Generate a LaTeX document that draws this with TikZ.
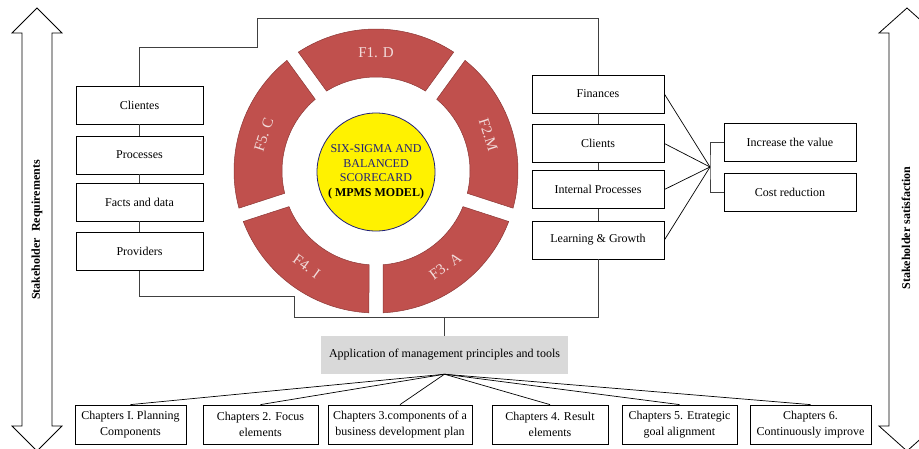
\documentclass[tikz,border=0pt]{standalone}
\usepackage{fontspec}
\setmainfont{Liberation Serif}
\usepackage{tikz}
\usetikzlibrary{calc}
\definecolor{segred}{HTML}{C0504D}
\definecolor{segedge}{HTML}{8C3836}
\definecolor{seglight}{HTML}{F2DCDB}
\definecolor{corenavy}{HTML}{1F1F7A}
\definecolor{appgray}{HTML}{D9D9D9}
\definecolor{linkgray}{HTML}{404040}
\newcommand\boxfont{\fontsize{12}{14.5}\selectfont}
\newcommand\chapfont{\fontsize{12}{16}\selectfont}
\tikzset{
  stbox/.style={draw=black,line width=0.8pt,minimum height=38pt,inner sep=2pt,
    font=\boxfont,fill=white},
  leftbox/.style={stbox,minimum width=127pt},
  rightbox/.style={stbox,minimum width=132pt},
  goalbox/.style={stbox,minimum width=132pt},
  chapbox/.style={stbox,minimum height=39pt,align=center,font=\chapfont,inner sep=1pt},
  appbox/.style={fill=appgray,minimum width=247pt,minimum height=38pt,
    inner sep=2pt,font=\boxfont},
  link/.style={linkgray,line width=0.8pt},
  fan/.style={black,line width=0.7pt},
  ringseg/.style={fill=segred,draw=segedge,line width=0.5pt},
  seglbl/.style={text=seglight,font=\fontsize{15}{17}\selectfont,inner sep=0pt},
  core/.style={circle,fill=yellow,draw=corenavy,line width=0.8pt,
    minimum size=118pt,inner sep=0pt,text=corenavy,align=center,
    font=\fontsize{12}{14.5}\selectfont},
  bigarrow/.style={draw=black,line width=0.8pt,fill=white},
  sidelbl/.style={rotate=90,font=\fontsize{12}{14}\selectfont\bfseries,inner sep=0pt},
}

\begin{document}
\begin{tikzpicture}[x=1pt,y=1pt]
  \useasboundingbox[fill=white] (0,0) rectangle (919,-448);

  \draw[bigarrow] (37,-8) -- (62,-33) -- (52,-33) -- (52,-426) -- (62,-426)
    -- (37,-451) -- (12,-426) -- (22,-426) -- (22,-33) -- (12,-33) -- cycle;
  \node[sidelbl] (req) at (37,-230) {Stakeholder\ \ Requirements};
  \draw[bigarrow] (907,-8) -- (935,-33) -- (925,-33) -- (925,-426) -- (935,-426)
    -- (907,-451) -- (879,-426) -- (889,-426) -- (889,-33) -- (879,-33) -- cycle;
  \node[sidelbl] (sat) at (906,-228) {Stakeholder satisfaction};

  \foreach \n/\y/\txt in {cli/105/Clientes,prc/155/Processes,
      fct/202/Facts and data,prv/251.5/Providers} {
    \node[leftbox] (\n) at (139.5,-\y) {\txt};
  }
  \foreach \n/\y/\txt in {fin/94/Finances,clt/143.5/Clients,
      ipr/189.5/Internal Processes,lrn/240/Learning \& Growth} {
    \node[rightbox] (\n) at (598,-\y) {\txt};
  }
  \node[goalbox] (inc) at (790,-142) {Increase the value};
  \node[goalbox] (cost) at (790,-192) {Cost reduction};

  \coordinate (topL) at (257,-47);
  \coordinate (topLU) at (257,-18);
  \coordinate (botR) at (598,-317);
  \coordinate (botL) at (294,-317);
  \coordinate (botLU) at (294,-296);
  \coordinate (merge) at (710,-167);

  \draw[link] (cli.north) |- (topL) -- (topLU) -| (fin.north);
  \draw[link] (lrn.south) |- (botL) -- (botLU) -| (prv.south);
  \draw[link] (cli) -- (prc) (prc) -- (fct) (fct) -- (prv);
  \draw[link] (fin) -- (clt) (clt) -- (ipr) (ipr) -- (lrn);
  \foreach \n in {fin,clt,ipr,lrn} {
    \draw[fan] (\n.east) -- (merge);
  }
  \draw[link] (inc.west) -| (merge) |- (cost.west);

  \begin{scope}[shift={(376,-171)}]
    \foreach \i/\c/\lbl/\rot in {1/90/F1. D/0,2/18/F2.M/-72,3/-54/F3. A/36,
        4/-126/F4. I/-36,5/162/F5. C/72} {
      \fill[ringseg] ({\c-33.17}:142pt) arc[start angle={\c-33.17},
        end angle={\c+33.17},radius=142pt] -- ({\c+31.73}:94pt)
        arc[start angle={\c+31.73},end angle={\c-31.73},radius=94pt] -- cycle;
      \node[seglbl,rotate=\rot] (seg\i) at (\c:118pt) {\lbl};
    }
  \end{scope}
  \node[core] (mpms) at (376,-172) {SIX-SIGMA AND\\BALANCED\\SCORECARD\\
    {\color{black}\bfseries( MPMS MODEL)}};

  \node[appbox] (app) at (444.5,-355) {Application of management principles and tools};
  \draw[link] (app.north |- botR) -- (app.north);

  \foreach \n/\cx/\w/\txt in {
      ch1/130.5/111/{Chapters I. Planning\\Components},
      ch2/260.5/115/{Chapters 2. Focus\\elements},
      ch3/400/144/{Chapters 3.components of a\\business development plan},
      ch4/550/116/{Chapters 4. Result\\elements},
      ch5/679.5/115/{Chapters 5. Etrategic\\goal alignment},
      ch6/810.5/121/{Chapters 6.\\Continuously improve}} {
    \node[chapbox,minimum width=\w pt] (\n) at (\cx,-424.5) {\txt};
    \draw[fan] (app.south) -- (\n.north);
  }
\end{tikzpicture}
\end{document}
